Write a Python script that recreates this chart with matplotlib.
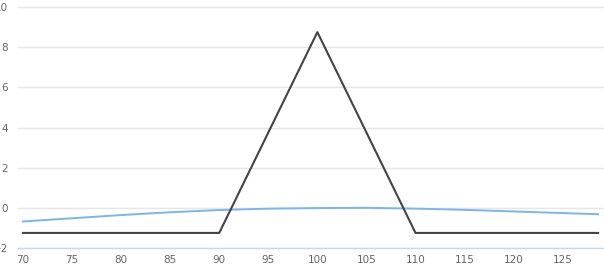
import matplotlib
matplotlib.use("Agg")
import matplotlib.pyplot as plt

# payoff at expiry (butterfly)
expiry_x = [70, 90, 100, 110, 128.6]
expiry_y = [-1.25, -1.25, 8.75, -1.25, -1.25]

# value today
today_x = [70, 75, 80, 85, 90, 95, 100, 105, 110, 115, 120, 125, 128.6]
today_y = [-0.68, -0.52, -0.36, -0.22, -0.11, -0.04, -0.01, 0.0, -0.04, -0.10, -0.18, -0.26, -0.32]

xticks = [70, 75, 80, 85, 90, 95, 100, 105, 110, 115, 120, 125]
yticks = [-2, 0, 2, 4, 6, 8, 10]

fig = plt.figure(figsize=(6.04, 2.70), dpi=100)
ax = fig.add_axes([18/604, 22/270, 586/604, 248/270])

ax.plot(today_x, today_y, color="#7cb5ec", lw=1.4, zorder=3)
ax.plot(expiry_x, expiry_y, color="#434348", lw=1.5, zorder=4)

ax.set_xlim(69.5, 129.2)
ax.set_ylim(-2, 10.35)
ax.set_xticks(xticks)
ax.set_yticks(yticks)
ax.grid(axis="y", color="#e6e6e6", lw=1)
ax.set_axisbelow(True)

for s in ["top", "right", "left"]:
    ax.spines[s].set_visible(False)
ax.spines["bottom"].set_color("#ccd6eb")
ax.spines["bottom"].set_linewidth(1)

ax.tick_params(axis="y", length=0, pad=7, labelsize=7.5, labelcolor="#666666")
ax.tick_params(axis="x", length=0, pad=5, labelsize=7.5, labelcolor="#666666")

fig.savefig("out.png", dpi=100)
